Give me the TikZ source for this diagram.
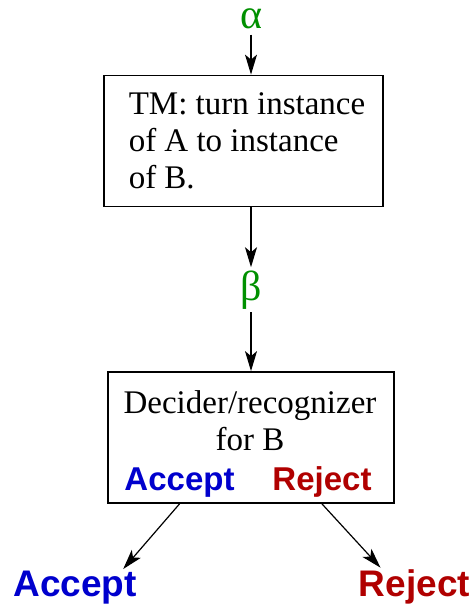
\documentclass[tikz,border=0pt]{standalone}
\usepackage{fontspec}
\setmainfont{Liberation Serif}
\setsansfont{Liberation Sans}
\usetikzlibrary{positioning, arrows.meta, calc}
\definecolor{greekcol}{RGB}{0, 144, 0}
\definecolor{acccol}{RGB}{0, 0, 205}
\definecolor{rejcol}{RGB}{176, 0, 0}

\begin{document}
\begin{tikzpicture}[x=1pt, y=-1pt,
    box/.style={rectangle, draw=black, line width=1.8pt, inner sep=0pt},
    txt/.style={font=\fontsize{33pt}{37pt}\selectfont},
    greek/.style={font=\fontsize{42pt}{46pt}\selectfont, text=greekcol, anchor=base, inner sep=1pt},
    outcome/.style={font=\fontsize{33pt}{37pt}\selectfont\sffamily\bfseries, anchor=base},
    bigout/.style={font=\fontsize{37pt}{40pt}\selectfont\sffamily\bfseries, anchor=base},
    arr/.style={-{Stealth[length=20pt, width=12pt, inset=5pt]}, line width=1.2pt}]

    \useasboundingbox (0,0) rectangle (474,604);

    \node[greek] (alpha) at (251, 29) {α};
    \node[box, txt, align=left, inner xsep=17.5pt, minimum width=271pt, minimum height=131pt] (tm) at (243.5, 141)
        {\hspace*{7pt}TM: turn instance\\\hspace*{7pt}of A to instance\\\hspace*{7pt}of B.};
    \node[greek] (beta) at (251, 300) {β};

    \node[box, minimum width=286pt, minimum height=131pt] (decider) at (251, 437.5) {};
    \node[txt, align=center] (dtext) at (250, 421) {Decider/recognizer\\for B};
    \node[outcome, text=acccol] (accin) at (179.5, 490) {Accept};
    \node[outcome, text=rejcol] (rejin) at (322, 490) {Reject};

    \node[bigout, text=acccol] (accept) at (75, 596) {Accept};
    \node[bigout, text=rejcol] (reject) at (414.5, 596) {Reject};

    \draw[arr] ([yshift=-4pt]alpha.south) -- (alpha |- tm.north);
    \draw[arr] (beta |- tm.south) -- ([yshift=2pt]beta.north);
    \draw[arr] ([yshift=-2pt]beta.south) -- (beta |- decider.north);
    \draw[arr] (accin |- decider.south) -- ([xshift=-17pt, yshift=-2pt]accept.north east);
    \draw[arr] (rejin |- decider.south) -- ([xshift=-34pt, yshift=-2pt]reject.north);
  \end{tikzpicture}
\end{document}
